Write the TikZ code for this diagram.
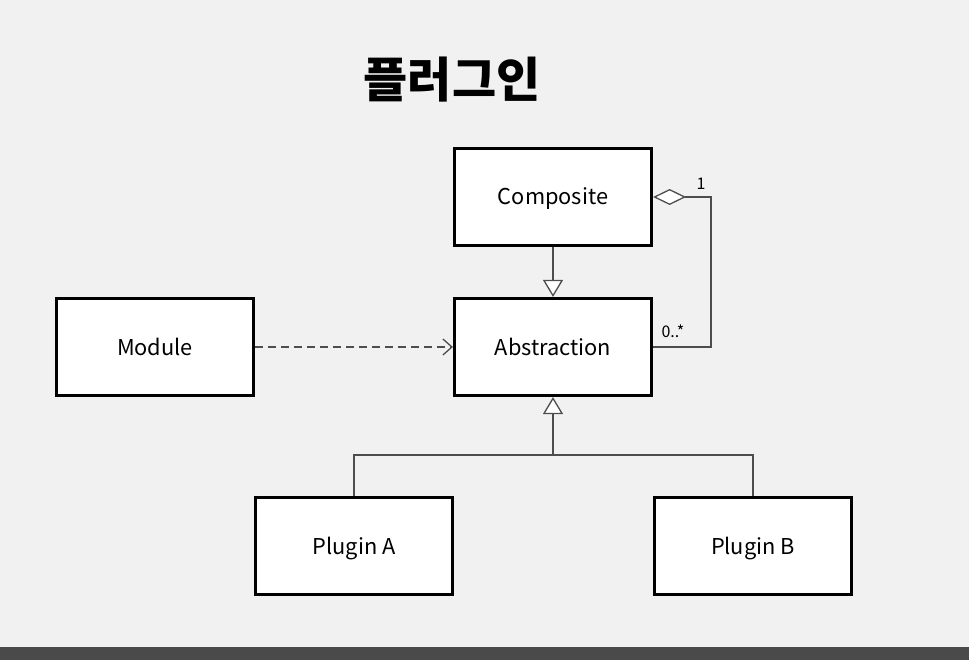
\documentclass[tikz,border=0pt]{standalone}
\usepackage{fontspec}
\setmainfont{Noto Sans CJK KR}
\usetikzlibrary{arrows.meta}
\definecolor{bg}{HTML}{F1F1F1}
\definecolor{ln}{HTML}{4D4D4D}
\definecolor{bar}{HTML}{4A4A4A}
\begin{document}
\begin{tikzpicture}[x=1pt,y=-1pt,
 box/.style={draw=black,line width=3.2pt,fill=white,minimum width=197pt,minimum height=97pt,inner sep=0pt,text height=21pt,text depth=5pt,font=\fontsize{21.8}{26}\selectfont},
 conn/.style={draw=ln,line width=1.3pt},
 lbl/.style={font=\fontsize{16}{18}\selectfont,inner sep=0pt},
 tri/.style={-{Triangle[width=20pt,length=17pt,fill=white]}}]
\path[use as bounding box,fill=bg] (0,0) rectangle (969,660);
\fill[bar] (0,647) rectangle (969,660);
\node[font=\fontsize{48}{54}\selectfont\bfseries] (title) at (452,80) {플러그인};
\node[box] (composite) at (553,197) {Composite};
\node[box] (abstraction) at (553,347) {Abstraction};
\node[box] (module) at (155,347) {Module};
\node[box] (pluginA) at (354,546) {Plugin A};
\node[box] (pluginB) at (753,546) {Plugin B};
\coordinate (agg) at (711,197);
\coordinate (j) at (553,455);
\draw[conn,tri] (composite.south) -- (abstraction.north);
\draw[conn,{Diamond[length=33pt,width=16pt,fill=white]}-] (composite.east) -- (agg) |- (abstraction.east);
\draw[conn,dash pattern=on 8pt off 5pt,-{Straight Barb[length=9pt,width=16pt]}] (module.east) -- (abstraction.west);
\draw[conn] (pluginA.north) |- (j) -| (pluginB.north);
\draw[conn,tri] (j) -- (abstraction.south);
\node[lbl] (one) at (701,184) {1};
\node[lbl] (many) at (673,331) {0..*};
\end{tikzpicture}
\end{document}
